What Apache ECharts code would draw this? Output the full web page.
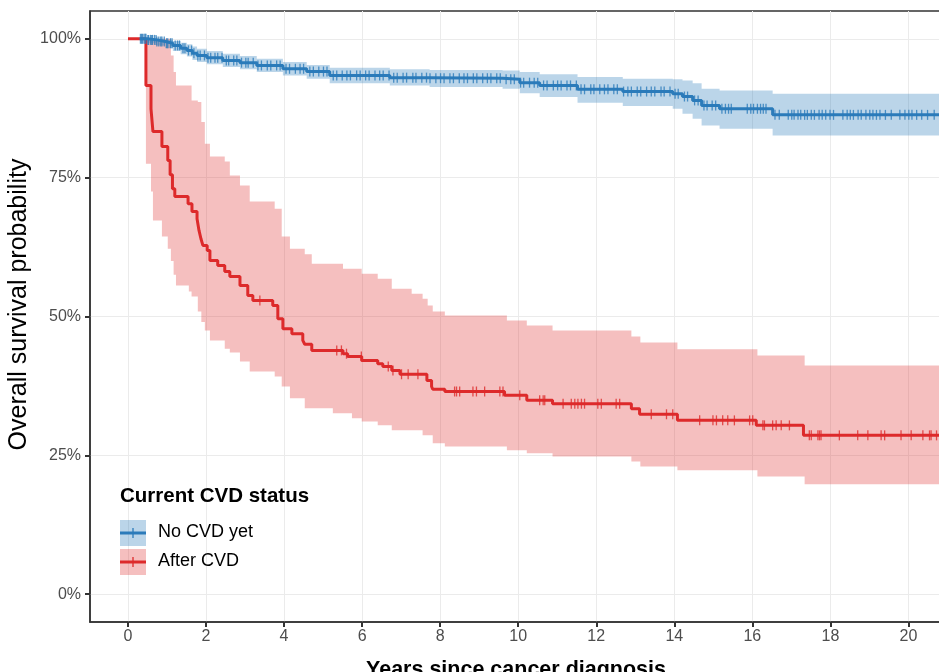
<!DOCTYPE html>
<html>
<head>
<meta charset="utf-8">
<style>
    html, body { margin: 0; padding: 0; background: #fff; }
    #chart-survival { width: 939px; height: 672px; }
</style>
<script src="https://cdn.jsdelivr.net/npm/echarts@6/dist/echarts.min.js"></script>
</head>
<body>
<div id="chart-survival"></div>
<script>
// 生存曲线数据 (年, 生存率%)
var noCvdTimes = [0.30, 0.50, 0.74, 0.95, 1.15, 1.35, 1.51, 1.65, 1.77, 2.02, 2.43, 2.87, 3.30, 3.97, 4.58, 5.17, 6.71, 7.73, 9.60, 10.04, 10.55, 11.52, 12.68, 13.96, 14.21, 14.47, 14.70, 15.16, 16.52, 20.86];
var noCvdSurv = [100, 99.8, 99.5, 99.2, 98.8, 98.3, 97.9, 97.4, 97.0, 96.6, 96.1, 95.7, 95.2, 94.6, 94.1, 93.4, 93.0, 92.9, 92.7, 92.1, 91.6, 90.9, 90.5, 90.1, 89.6, 88.9, 88.0, 87.4, 86.3, 86.3];
var noCvdLower = [100, 99.3, 98.8, 98.3, 97.8, 97.2, 96.8, 96.2, 95.8, 95.4, 94.9, 94.5, 94.0, 93.4, 92.8, 92.0, 91.6, 91.3, 91.0, 90.2, 89.5, 88.5, 87.9, 87.4, 86.5, 85.6, 84.4, 83.8, 82.6, 82.6];
var noCvdUpper = [100, 100, 100, 99.8, 99.6, 99.3, 99.0, 98.6, 98.2, 97.8, 97.3, 96.9, 96.4, 95.8, 95.3, 94.8, 94.5, 94.4, 94.3, 94.0, 93.6, 93.1, 92.8, 92.7, 92.5, 92.0, 91.0, 90.7, 90.1, 90.1];

var afterCvdTimes = [0, 0.46, 0.59, 0.64, 0.87, 1.02, 1.08, 1.14, 1.20, 1.54, 1.64, 1.77, 1.82, 1.87, 1.92, 2.03, 2.10, 2.30, 2.48, 2.61, 2.87, 3.07, 3.20, 3.71, 3.84, 3.97, 4.20, 4.48, 4.53, 4.71, 5.51, 5.63, 5.99, 6.40, 6.53, 6.76, 6.97, 7.66, 7.78, 7.81, 8.12, 9.65, 10.22, 10.88, 12.90, 13.11, 14.08, 16.10, 17.31, 20.86];
var afterCvdSurv = [100, 91.6, 87.4, 83.3, 80.6, 78.1, 75.5, 73.0, 71.6, 70.3, 68.9, 67.6, 65.5, 64.0, 62.8, 61.9, 60.1, 59.2, 58.1, 57.2, 55.6, 53.8, 52.9, 52.0, 49.6, 47.8, 46.9, 45.7, 45.0, 43.9, 43.3, 42.8, 42.1, 41.5, 41.0, 40.3, 39.6, 38.5, 37.4, 36.9, 36.5, 35.8, 34.9, 34.3, 33.4, 32.4, 31.3, 30.4, 28.6, 28.6];

var afterCvdBandTimes = [0.46, 0.59, 0.64, 0.87, 1.02, 1.10, 1.17, 1.23, 1.56, 1.63, 1.79, 1.88, 1.97, 2.10, 2.48, 2.61, 2.87, 3.12, 3.76, 3.94, 4.15, 4.28, 4.53, 4.71, 5.25, 5.51, 5.74, 5.99, 6.40, 6.76, 7.27, 7.55, 7.68, 7.81, 8.12, 9.71, 10.22, 10.88, 12.90, 13.13, 14.08, 16.13, 17.34, 20.86];
var afterCvdLower = [77.5, 72.5, 67.3, 64.4, 62.2, 60.0, 57.5, 55.6, 54.5, 53.6, 50.9, 49.0, 47.5, 45.7, 44.2, 43.5, 41.9, 40.1, 39.2, 37.4, 35.3, 35.3, 33.5, 33.5, 32.6, 32.6, 31.7, 31.1, 30.4, 29.5, 29.5, 28.6, 28.6, 27.2, 26.6, 25.9, 25.4, 24.8, 23.9, 23.0, 22.3, 21.2, 19.8, 19.8];
var afterCvdUpper = [100, 100, 100, 100, 100, 97.0, 94.0, 91.6, 91.6, 88.9, 88.6, 85.0, 81.1, 78.8, 77.9, 75.4, 73.6, 70.7, 69.4, 64.4, 62.2, 62.2, 61.2, 59.5, 59.5, 58.6, 58.6, 57.7, 56.8, 55.0, 54.1, 53.2, 52.0, 50.9, 50.2, 49.3, 48.4, 47.5, 46.4, 45.3, 44.1, 43.0, 41.2, 41.2];

// 删失时间 (年)
var noCvdCensor = [0.32, 0.35, 0.37, 0.41, 0.44, 0.46, 0.51, 0.53, 0.58, 0.61, 0.63, 0.68, 0.72, 0.74, 0.79, 0.84, 0.87, 0.93, 0.99, 1.02, 1.09, 1.13, 1.21, 1.27, 1.32, 1.41, 1.46, 1.55, 1.63, 1.69, 1.79, 1.85, 1.96, 2.05, 2.12, 2.23, 2.30, 2.41, 2.52, 2.58, 2.71, 2.79, 2.91, 3.02, 3.08, 3.21, 3.33, 3.42, 3.57, 3.66, 3.81, 3.90, 4.05, 4.14, 4.29, 4.41, 4.50, 4.66, 4.75, 4.89, 5.01, 5.10, 5.26, 5.35, 5.49, 5.61, 5.70, 5.86, 5.95, 6.09, 6.18, 6.33, 6.45, 6.54, 6.69, 6.81, 6.90, 7.05, 7.14, 7.30, 7.38, 7.53, 7.65, 7.74, 7.89, 8.01, 8.10, 8.25, 8.34, 8.49, 8.61, 8.70, 8.85, 8.94, 9.09, 9.21, 9.30, 9.45, 9.54, 9.69, 9.81, 9.90, 10.06, 10.14, 10.29, 10.41, 10.50, 10.65, 10.74, 10.90, 11.01, 11.10, 11.25, 11.34, 11.49, 11.61, 11.70, 11.86, 11.94, 12.09, 12.21, 12.30, 12.45, 12.54, 12.70, 12.81, 12.90, 13.05, 13.14, 13.29, 13.41, 13.50, 13.66, 13.74, 13.89, 14.02, 14.10, 14.26, 14.34, 14.52, 14.61, 14.76, 14.84, 14.97, 15.06, 15.22, 15.31, 15.39, 15.46, 15.87, 15.96, 16.03, 16.13, 16.21, 16.28, 16.35, 16.58, 16.69, 16.92, 17.01, 17.07, 17.17, 17.24, 17.34, 17.41, 17.51, 17.59, 17.71, 17.79, 17.88, 17.99, 18.08, 18.32, 18.43, 18.51, 18.59, 18.71, 18.79, 18.91, 19.01, 19.09, 19.18, 19.27, 19.41, 19.56, 19.78, 19.91, 20.01, 20.09, 20.21, 20.34, 20.49, 20.66];
var afterCvdCensor = [3.38, 5.35, 5.47, 5.60, 5.98, 6.67, 6.79, 7.01, 7.18, 7.43, 8.37, 8.42, 8.50, 8.84, 8.93, 9.14, 9.53, 9.61, 10.04, 10.55, 10.64, 10.68, 11.15, 11.36, 11.45, 11.53, 11.62, 11.70, 12.04, 12.13, 12.51, 12.60, 13.41, 13.80, 13.96, 14.65, 14.99, 15.08, 15.24, 15.37, 15.54, 15.93, 16.01, 16.27, 16.31, 16.52, 16.61, 16.74, 16.95, 17.46, 17.51, 17.68, 17.72, 17.76, 18.23, 18.70, 18.96, 19.30, 19.39, 19.81, 20.07, 20.37, 20.54, 20.58, 20.72];

var xTicks = [0, 2, 4, 6, 8, 10, 12, 14, 16, 18, 20];
var yTicks = [0, 25, 50, 75, 100];

var groupNames = ['No CVD yet', 'After CVD'];
var blue = '#2b7bba';
var red = '#dd2a2b';
var blueFill = 'rgba(43,123,186,0.32)';
var redFill = 'rgba(221,42,43,0.3)';

var Survival = function () {

    var pairs = function (xs, ys) {
        var out = [];
        for (var i = 0; i < xs.length; i++) {
            out.push([xs[i], ys[i]]);
        }
        return out;
    };

    // 阶梯函数取值
    var stepValue = function (xs, ys, t) {
        var v = ys[0];
        for (var i = 0; i < xs.length; i++) {
            if (xs[i] <= t) {
                v = ys[i];
            }
        }
        return v;
    };

    var censorPoints = function (censor, xs, ys) {
        return censor.map(function (t) {
            return [t, stepValue(xs, ys, t)];
        });
    };

    // 置信区间 (阶梯多边形)
    var bandSeries = function (xs, lower, upper, color) {
        return {
            type: 'custom',
            silent: true,
            clip: true,
            z: 1,
            data: [[xs[0], lower[0]]],
            renderItem: function (params, api) {
                var pts = [];
                var n = xs.length;
                for (var i = 0; i < n; i++) {
                    pts.push(api.coord([xs[i], upper[i]]));
                    if (i < n - 1) {
                        pts.push(api.coord([xs[i + 1], upper[i]]));
                    }
                }
                for (var j = n - 1; j >= 0; j--) {
                    if (j < n - 1) {
                        pts.push(api.coord([xs[j + 1], lower[j]]));
                    }
                    pts.push(api.coord([xs[j], lower[j]]));
                }
                return {
                    type: 'polygon',
                    shape: { points: pts },
                    style: { fill: color }
                };
            }
        };
    };

    var init = function () {
        var series = [];
        series.push(bandSeries(afterCvdBandTimes, afterCvdLower, afterCvdUpper, redFill));
        series.push(bandSeries(noCvdTimes, noCvdLower, noCvdUpper, blueFill));
        series.push({
            name: groupNames[1],
            type: 'line',
            step: 'end',
            showSymbol: false,
            lineStyle: { color: red, width: 3 },
            data: pairs(afterCvdTimes, afterCvdSurv),
            z: 3
        });
        series.push({
            type: 'scatter',
            symbol: 'rect',
            symbolSize: [1.3, 10],
            itemStyle: { color: red },
            data: censorPoints(afterCvdCensor, afterCvdTimes, afterCvdSurv),
            z: 4
        });
        series.push({
            name: groupNames[0],
            type: 'line',
            step: 'end',
            showSymbol: false,
            lineStyle: { color: blue, width: 3 },
            data: pairs(noCvdTimes, noCvdSurv),
            z: 5
        });
        series.push({
            type: 'scatter',
            symbol: 'rect',
            symbolSize: [1.3, 10],
            itemStyle: { color: blue },
            data: censorPoints(noCvdCensor, noCvdTimes, noCvdSurv),
            z: 6
        });

        var legendFont = 'Liberation Sans, Arial, sans-serif';

        var options = {
            animation: false,
            backgroundColor: '#fff',
            textStyle: { fontFamily: 'Liberation Sans, Arial, sans-serif' },
            grid: {
                left: 90,
                top: 11,
                right: -3,
                bottom: 50,
                outerBoundsMode: 'none',
                containLabel: false,
                show: true,
                borderColor: '#333',
                borderWidth: 1.5,
                backgroundColor: 'transparent'
            },
            xAxis: {
                type: 'value',
                min: -0.973,
                max: 20.86,
                name: 'Years since cancer diagnosis',
                nameLocation: 'middle',
                nameGap: 37,
                nameMoveOverlap: false,
                nameTextStyle: { color: '#000', fontSize: 21.5, fontWeight: 'bold' },
                axisLine: { show: true, onZero: false, lineStyle: { color: '#333', width: 1.5 } },
                axisTick: { show: true, customValues: xTicks, length: 5, lineStyle: { color: '#333', width: 2 } },
                axisLabel: { customValues: xTicks, color: '#4d4d4d', fontSize: 16, margin: 7 },
                splitLine: { show: true, lineStyle: { color: '#ebebeb', width: 1 } }
            },
            yAxis: {
                type: 'value',
                min: -5,
                max: 105,
                name: 'Overall survival probability',
                nameLocation: 'middle',
                nameGap: 58,
                nameMoveOverlap: false,
                nameTextStyle: { color: '#000', fontSize: 25, padding: [0, 0, 0, 24] },
                axisLine: { show: true, onZero: false, lineStyle: { color: '#333', width: 1.5 } },
                axisTick: { show: true, customValues: yTicks, length: 5, lineStyle: { color: '#333', width: 2 } },
                axisLabel: {
                    customValues: yTicks,
                    color: '#4d4d4d',
                    fontSize: 16,
                    margin: 9,
                    formatter: function (v) { return v + '%'; }
                },
                splitLine: { show: true, lineStyle: { color: '#ebebeb', width: 1 } }
            },
            // 图例
            graphic: [
                { type: 'text', z: 100, x: 120, y: 486, style: { text: 'Current CVD status', fontSize: 20.5, fontWeight: 'bold', fill: '#000', fontFamily: legendFont } },
                { type: 'rect', z: 100, shape: { x: 120, y: 520, width: 26, height: 26 }, style: { fill: blueFill } },
                { type: 'line', z: 101, shape: { x1: 120, y1: 533, x2: 146, y2: 533 }, style: { stroke: blue, lineWidth: 3 } },
                { type: 'line', z: 101, shape: { x1: 133, y1: 528, x2: 133, y2: 538 }, style: { stroke: blue, lineWidth: 1.3 } },
                { type: 'text', z: 100, x: 158, y: 523, style: { text: groupNames[0], fontSize: 18, fill: '#000', fontFamily: legendFont } },
                { type: 'rect', z: 100, shape: { x: 120, y: 549, width: 26, height: 26 }, style: { fill: redFill } },
                { type: 'line', z: 101, shape: { x1: 120, y1: 562, x2: 146, y2: 562 }, style: { stroke: red, lineWidth: 3 } },
                { type: 'line', z: 101, shape: { x1: 133, y1: 557, x2: 133, y2: 567 }, style: { stroke: red, lineWidth: 1.3 } },
                { type: 'text', z: 100, x: 158, y: 552, style: { text: groupNames[1], fontSize: 18, fill: '#000', fontFamily: legendFont } }
            ],
            series: series
        };
        var chart = echarts.init(document.getElementById('chart-survival'));
        chart.setOption(options);
    };

    return {
        init: init
    };
}();

Survival.init();
</script>
</body>
</html>
